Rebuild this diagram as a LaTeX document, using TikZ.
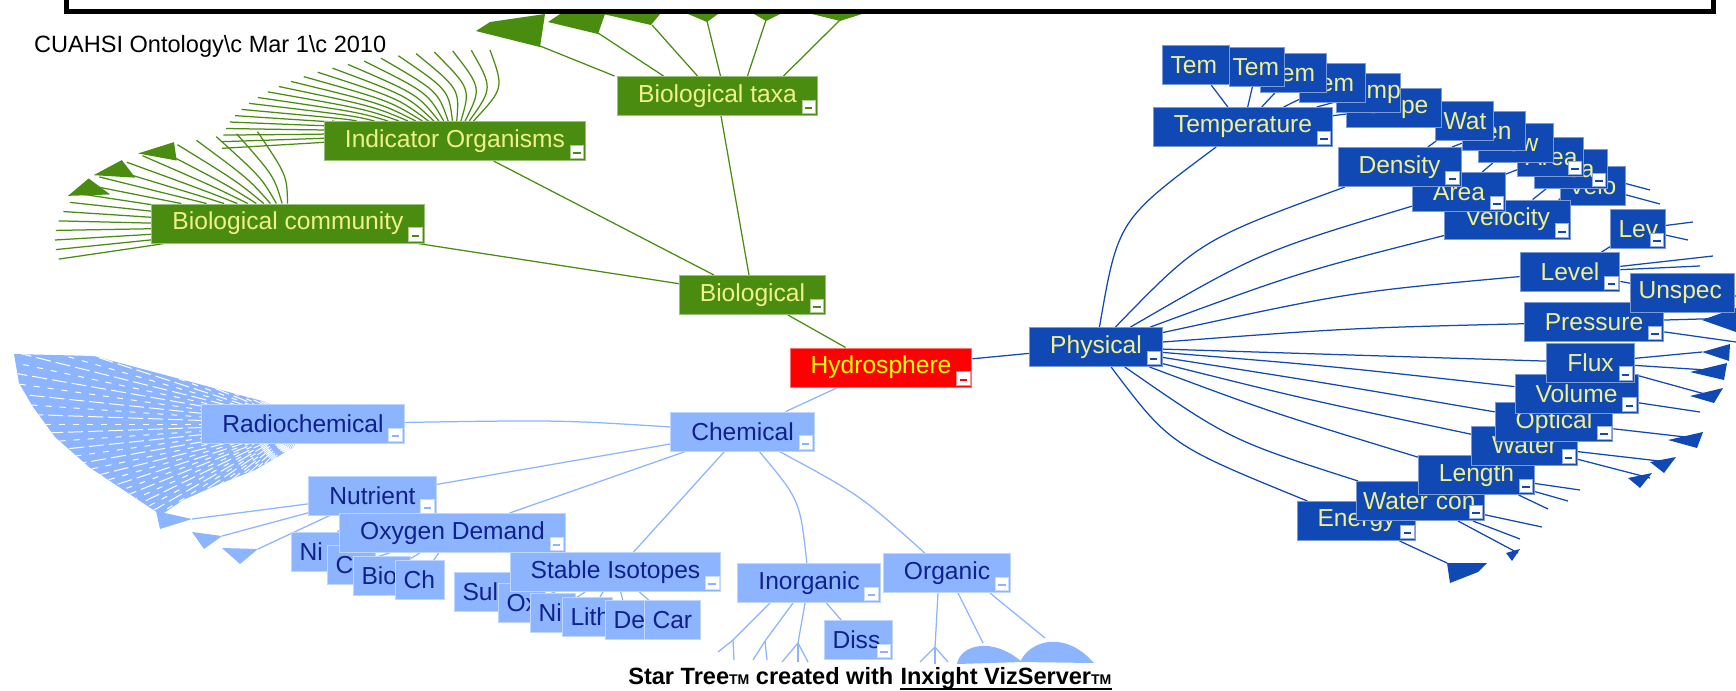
\documentclass[tikz,border=0pt]{standalone}
\usepackage{fontspec}
\setmainfont{Liberation Sans}
\usetikzlibrary{calc}
\usetikzlibrary{backgrounds}
\definecolor{biofill}{HTML}{4A8C10}
\definecolor{physfill}{HTML}{1048B4}
\definecolor{chemfill}{HTML}{8CB4FF}
\definecolor{chemtext}{HTML}{10208C}
\definecolor{boxtext}{HTML}{F0F08C}
\definecolor{hydrofill}{HTML}{FF0000}
\definecolor{hydrotext}{HTML}{FFFF00}
\newcommand{\lblfont}{\fontsize{14}{16}\selectfont}
\newcommand{\stampfont}{\fontsize{13.4}{15}\selectfont}
\newcommand{\creditfont}{\fontsize{13.4}{15}\selectfont\bfseries}
\newcommand{\tmark}{{\fontsize{8}{8}\selectfont TM}}
\newcommand{\collapse}[2]{\node (#1m) at ([xshift=-0.04cm,yshift=0.04cm]#1.south east) [minusicon=#2] {};}
\tikzset{
  panel/.style={minimum height=0.78cm, inner ysep=0pt, font=\lblfont,
    line width=0.02cm, fill=#1, draw=#1!55!white},
  bigbox/.style={panel=#1, inner xsep=0.41cm},
  leafbox/.style={panel=#1, inner xsep=0.16cm, align=left, anchor=north west},
  greenbox/.style={bigbox=biofill, text=boxtext},
  physbox/.style={bigbox=physfill, text=boxtext},
  chembox/.style={bigbox=chemfill, text=chemtext},
  hydrobox/.style={bigbox=hydrofill, text=hydrotext},
  physleaf/.style={leafbox=physfill, text=boxtext},
  chemleaf/.style={leafbox=chemfill, text=chemtext},
  bioedge/.style={draw=biofill, line width=0.025cm},
  physedge/.style={draw=physfill, line width=0.025cm},
  chemedge/.style={draw=chemfill, line width=0.025cm},
  minusicon/.style={fill=white, draw=#1!45!white, line width=0.015cm,
    minimum width=0.27cm, minimum height=0.27cm, inner sep=0pt, anchor=south east,
    path picture={\draw[#1, line width=0.04cm]
      ([shift={(0.06cm,0.11cm)}]path picture bounding box.south west) --
      ([shift={(-0.06cm,0.11cm)}]path picture bounding box.south east);}}
}
\begin{document}
\begin{tikzpicture}[x=0.02cm, y=-0.02cm]
    \useasboundingbox (0,0) rectangle (1736,690);
    \draw[line width=0.1cm] (66,-5) -- (66,11) -- (1713,11) -- (1713,-5);

    \node (stamp) at (28,52) [anchor=base west, font=\stampfont] {CUAHSI Ontology\textbackslash c Mar 1\textbackslash c 2010};
    \node (credit) at (628,684) [anchor=base west, inner sep=0pt, font=\creditfont] {Star Tree\tmark{} created with};
    \node (vizsrv) at ([xshift=0.13cm]credit.base east) [anchor=base west, inner sep=0pt, font=\creditfont] {Inxight VizServer\tmark};
    \draw[line width=0.035cm] ([yshift=-0.1cm]vizsrv.base west) -- ([yshift=-0.1cm]vizsrv.base east);

    % Biological
    \node (biotaxa) at (717.5,96) [greenbox] {Biological taxa};
    \collapse{biotaxa}{biofill}
    \node (indorg) at (455,141) [greenbox] {Indicator Organisms};
    \collapse{indorg}{biofill}
    \node (biocomm) at (288,223.5) [greenbox] {Biological community};
    \collapse{biocomm}{biofill}
    \node (bio) at (752.5,295) [greenbox] {Biological};
    \collapse{bio}{biofill}

    \node (hydro) at (881,367.5) [hydrobox] {Hydrosphere};
    \collapse{hydro}{hydrofill}

    % Chemical
    \node (chem) at (742.5,431.5) [chembox] {Chemical};
    \collapse{chem}{chemfill}
    \node (radio) at (303,424) [chembox] {Radiochemical};
    \collapse{radio}{chemfill}
    \node (nutrient) at (372.5,495.5) [chembox] {Nutrient};
    \collapse{nutrient}{chemfill}
    \node (ni1) at (291,532) [chemleaf, text width=0.76cm] {Ni};
    \node (c1) at (327,545) [chemleaf, text width=0.64cm] {C};
    \node (bio2) at (353,556) [chemleaf, text width=0.82cm] {Bio};
    \node (ch) at (395,560) [chemleaf, text width=0.66cm] {Ch};
    \node (oxdem) at (452.5,533) [chembox] {Oxygen Demand};
    \collapse{oxdem}{chemfill}
    \node (sul) at (454,572) [chemleaf, text width=0.8cm] {Sul};
    \node (ox) at (498,583) [chemleaf, text width=0.62cm] {Ox};
    \node (ni2) at (530,593) [chemleaf, text width=0.58cm] {Ni};
    \node (lith) at (562,597) [chemleaf, text width=0.68cm] {Lith};
    \node (de) at (605,600) [chemleaf, text width=0.58cm] {De};
    \node (car) at (644,600) [chemleaf, text width=0.8cm] {Car};
    \node (stable) at (615.5,572) [chembox] {Stable Isotopes};
    \collapse{stable}{chemfill}
    \node (inorg) at (809,583) [chembox] {Inorganic};
    \collapse{inorg}{chemfill}
    \node (org) at (947,573) [chembox] {Organic};
    \collapse{org}{chemfill}
    \node (diss) at (824,620) [chemleaf, text width=1.04cm] {Diss};
    \collapse{diss}{chemfill}

    % Physical
    \node (phys) at (1096,347) [physbox] {Physical};
    \collapse{phys}{physfill}
    \node (velo2) at (1560,166) [physleaf, text width=0.98cm] {Velo};
    \node (area3) at (1534,149) [physleaf, text width=1.14cm] {Area};
    \collapse{area3}{physfill}
    \node (area2) at (1517,137) [physleaf, text width=1.0cm] {Area};
    \collapse{area2}{physfill}
    \node (flow) at (1478,123) [physleaf, text width=1.18cm] {Flow};
    \node (len) at (1462,111) [physleaf, text width=0.94cm] {Len};
    \node (wat) at (1435,101) [physleaf, text width=0.84cm] {Wat};
    \node (tempe) at (1346,88) [physleaf, text width=1.58cm] {Tempe};
    \node (tem5) at (1336,73) [physleaf, text width=1.12cm, inner xsep=0.08cm] {Temp};
    \node (tem4) at (1299,63) [physleaf, text width=1.0cm] {Tem};
    \node (tem3) at (1260,53) [physleaf, text width=1.0cm] {Tem};
    \node (tem1) at (1162,45) [physleaf, text width=1.02cm] {Tem};
    \node (tem2) at (1229,47) [physleaf, text width=0.98cm, inner xsep=0.06cm] {Tem};
    \node (temp) at (1243,127) [physbox] {Temperature};
    \collapse{temp}{physfill}
    \node (velocity) at (1507.5,219.5) [physbox] {Velocity};
    \collapse{velocity}{physfill}
    \node (area) at (1459,192) [physbox] {Area};
    \collapse{area}{physfill}
    \node (dens) at (1399.5,167) [physbox] {Density};
    \collapse{dens}{physfill}
    \node (lev) at (1610,209) [physleaf, text width=0.78cm] {Lev};
    \collapse{lev}{physfill}
    \node (level) at (1570,272) [physbox] {Level};
    \collapse{level}{physfill}
    \node (energy) at (1356.5,521) [physbox] {Energy};
    \collapse{energy}{physfill}
    \node (watercon) at (1356,481) [physleaf, text width=2.3cm, inner xsep=0.13cm] {Water con};
    \collapse{watercon}{physfill}
    \node (length) at (1476.5,475) [physbox] {Length};
    \collapse{length}{physfill}
    \node (water) at (1524.5,445.5) [physbox] {Water};
    \collapse{water}{physfill}
    \node (opt) at (1554,422) [physbox] {Optical};
    \collapse{opt}{physfill}
    \node (vol) at (1576.5,393.5) [physbox] {Volume};
    \collapse{vol}{physfill}
    \node (flux) at (1590.5,362.5) [physbox] {Flux};
    \collapse{flux}{physfill}
    \node (press) at (1594,322) [physbox] {Pressure};
    \collapse{press}{physfill}
    \node (unspec) at (1630,273) [physleaf, text width=1.76cm] {Unspec};

    \begin{scope}[on background layer]
      \draw[bioedge] (hydro) -- (bio);
      \draw[chemedge] (hydro) -- (chem);
      \draw[physedge] (hydro) -- (phys);
      \draw[bioedge] (bio) -- (biotaxa);
      \draw[bioedge] (bio) -- (indorg);
      \draw[bioedge] (bio) -- (biocomm);

      \foreach \a in {90,94,...,182}
        \draw[bioedge] (indorg) .. controls ({490+160*cos(\a-5)},{145-57*sin(\a-5)}) .. ({490+268*cos(\a)},{145-95*sin(\a)});
      \foreach \a in {100,105,...,190}
        \draw[bioedge] (biocomm) .. controls ({300+150*cos(\a-5)},{240-65*sin(\a-5)}) .. ({300+245*cos(\a)},{240-110*sin(\a)});
      \foreach \a in {125,140,152}
        \fill[biofill] ({300+215*cos(\a)},{240-97*sin(\a)}) -- ({300+252*cos(\a-5)},{240-113*sin(\a-5)}) -- ({300+252*cos(\a+5)},{240-113*sin(\a+5)}) -- cycle;
      \foreach \dx/\x/\y in {-2.06/540/46, -1.08/598/33, -0.4/652/25, 0.06/707/21, 0.6/766/20, 1.32/840/20}
        \draw[bioedge] ([xshift=\dx cm]biotaxa.north) -- (\x,\y);
      \fill[biofill] (540,47) -- (476,31) -- (490,22) -- (545,14) -- cycle;
      \fill[biofill] (598,34) -- (548,22) -- (560,14) -- (605,14) -- cycle;
      \fill[biofill] (651,25) -- (603,14) -- (660,14) -- cycle;
      \fill[biofill] (707,22) -- (688,14) -- (718,14) -- cycle;
      \fill[biofill] (766,21) -- (754,14) -- (780,14) -- cycle;
      \fill[biofill] (840,21) -- (812,14) -- (862,14) -- cycle;

      \draw[chemedge] (chem) .. controls (560,420) .. (radio);
      \draw[chemedge] (chem) -- (nutrient);
      \draw[chemedge] (chem) -- (oxdem);
      \draw[chemedge] (chem) -- (stable);
      \draw[chemedge] (chem) .. controls (800,500) .. (inorg);
      \draw[chemedge] (chem) .. controls (860,495) .. (org);
      \draw[chemedge] (inorg) -- (diss);
      \draw[chemedge] (nutrient) -- (ni1);
      \foreach \n in {c1,bio2,ch}
        \draw[chemedge] (oxdem) -- (\n);
      \foreach \n in {sul,ox,ni2,lith,de,car}
        \draw[chemedge] (stable) -- (\n);
      \begin{scope}
        \clip (14,354) -- (94,356) -- (266,402) -- (300,420) -- (294,447) -- (255,470) -- (222,483) -- (183,500) -- (161,515) -- (128,493) -- (89,467) -- (55,437) -- (33,407) -- (19,383) -- cycle;
        \fill[chemfill] (0,340) rectangle (320,530);
        \foreach \a in {150,154,...,250}
          \draw[white, line width=0.02cm, dash pattern=on 0.3cm off 0.1cm] (radio.center) -- ([shift={(\a:7cm)}]radio.center);
        \foreach \a in {152,156,...,250}
          \draw[white, line width=0.02cm, dash pattern=on 0.12cm off 0.16cm] (radio.center) -- ([shift={(\a:7cm)}]radio.center);
      \end{scope}
      \foreach \x/\y in {192/519, 222/536, 258/549}
        \draw[chemedge] (nutrient) -- (\x,\y);
      \fill[chemfill] (192,519) -- (156,511) -- (160,529) -- cycle;
      \fill[chemfill] (222,536) -- (192,532) -- (204,549) -- cycle;
      \fill[chemfill] (258,549) -- (222,548) -- (240,564) -- cycle;
      \foreach \dx/\mx/\my in {-0.78/733/640, -0.32/765/641, -0.08/798/643}
        \draw[chemedge] ([xshift=\dx cm]inorg.south) -- (\mx,\my);
      \foreach \mx/\my/\x/\y in {733/640/718/652, 733/640/734/660, 765/641/753/660, 765/641/767/660, 798/643/782/662, 798/643/798/662, 798/643/808/662}
        \draw[chemedge] (\mx,\my) -- (\x,\y);
      \draw[chemedge] ([xshift=-0.18cm]org.south) -- (935,647);
      \foreach \x/\y in {920/662, 935/664, 948/662}
        \draw[chemedge] (935,647) -- (\x,\y);
      \draw[chemedge] ([xshift=0.22cm]org.south) -- (983,643);
      \draw[chemedge] ([xshift=0.86cm]org.south) -- (1045,638);
      \fill[chemfill] (957,664) .. controls (960,645) and (992,636) .. (1022,662) -- cycle;
      \fill[chemfill] (1020,662) .. controls (1030,640) and (1065,630) .. (1094,663) -- cycle;

      \draw[physedge] (phys) .. controls (1118,220) .. (temp);
      \draw[physedge] (phys) .. controls (1200,240) .. (dens);
      \draw[physedge] (phys) .. controls (1260,252) .. (area);
      \draw[physedge] (phys) .. controls (1300,272) .. (velocity);
      \draw[physedge] (phys) .. controls (1350,292) .. (level);
      \draw[physedge] (phys) .. controls (1350,328) .. (press);
      \draw[physedge] (phys) -- (flux);
      \draw[physedge] (phys) .. controls (1330,366) .. (vol);
      \draw[physedge] (phys) .. controls (1320,382) .. (opt);
      \draw[physedge] (phys) .. controls (1300,398) .. (water);
      \draw[physedge] (phys) .. controls (1270,412) .. (length);
      \draw[physedge] (phys) .. controls (1230,440) .. (watercon);
      \draw[physedge] (phys) .. controls (1170,445) .. (energy);
      \foreach \n in {tem1,tem2,tem3,tem4,tem5,tempe}
        \draw[physedge] (temp) -- (\n);
      \foreach \n in {wat,len}
        \draw[physedge] (dens) -- (\n);
      \foreach \n in {flow,area2}
        \draw[physedge] (area) -- (\n);
      \foreach \n in {area3,velo2}
        \draw[physedge] (velocity) -- (\n);
      \draw[physedge] (level) -- (lev);
      \draw[physedge] (level) -- (unspec);
      \foreach \n/\x/\y in {press/1736/318, press/1736/342, unspec/1736/296, flux/1702/352, flux/1722/371, flux/1712/396, vol/1700/412, opt/1694/438, water/1668/462, water/1650/478, level/1713/256, level/1700/266, lev/1693/222, lev/1688/240, length/1548/509, length/1568/501, length/1580/490, watercon/1518/553, watercon/1520/539, watercon/1542/527, energy/1447/563, velo2/1660/204, area3/1650/190}
        \draw[physedge] (\n) -- (\x,\y);
      \fill[physfill] (1702,320) -- (1736,308) -- (1736,332) -- cycle;
      \fill[physfill] (1702,352) -- (1730,344) -- (1729,361) -- cycle;
      \fill[physfill] (1690,372) -- (1727,363) -- (1724,380) -- cycle;
      \fill[physfill] (1690,396) -- (1723,388) -- (1714,403) -- cycle;
      \fill[physfill] (1668,440) -- (1703,432) -- (1697,448) -- cycle;
      \fill[physfill] (1650,462) -- (1676,457) -- (1664,473) -- cycle;
      \fill[physfill] (1628,478) -- (1652,473) -- (1640,488) -- cycle;
      \fill[physfill] (1506,553) -- (1520,549) -- (1512,561) -- cycle;
      \fill[physfill] (1447,563) -- (1487,563) -- (1478,572) -- (1450,583) -- cycle;
    \end{scope}
\end{tikzpicture}
\end{document}
